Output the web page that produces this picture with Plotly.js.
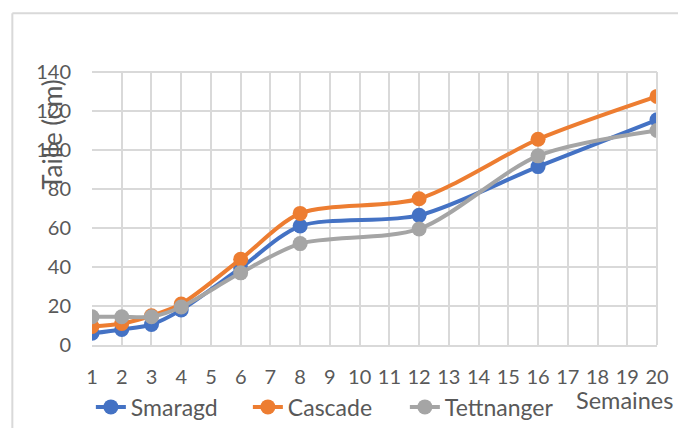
<!DOCTYPE html>
<html>
<head>
<meta charset="utf-8">
<script src="https://cdn.plot.ly/plotly-3.0.1.min.js"></script>
<style>html,body{margin:0;padding:0;background:#fff;}#chart{width:678px;height:428px;}</style>
</head>
<body>
<div id="chart"></div>
<script>
const categories = ['1','2','3','4','5','6','7','8','9','10','11','12','13','14','15','16','17','18','19','20'];
const weeks = ['1','2','3','4','6','8','12','16','20'];
const smaragd = [6, 8, 10.5, 18, 39.5, 61, 66.5, 91.5, 115.5];
const cascade = [9.5, 11, 15, 21, 44, 67.5, 75, 105.5, 127.5];
const tettnanger = [14.5, 14.5, 14.5, 19.5, 37, 52, 59.5, 97, 110];
const yTicks = [0, 20, 40, 60, 80, 100, 120, 140];

const names = ['Smaragd', 'Cascade', 'Tettnanger'];
const colors = ['#4472c4', '#ed7d31', '#a5a5a5'];
const series = [smaragd, cascade, tettnanger];

const traces = series.map((vals, i) => ({
  x: weeks, y: vals, name: names[i], type: 'scatter', mode: 'lines+markers',
  line: {color: colors[i], width: 4, shape: 'spline', smoothing: 0.8},
  marker: {color: colors[i], size: 15}
}));

const FONT = 'Lato, "Open Sans", sans-serif';
const layout = {
  width: 678, height: 428,
  margin: {l: 92, r: 21, t: 72, b: 83, autoexpand: false},
  paper_bgcolor: '#fff', plot_bgcolor: '#fff',
  font: {family: FONT, color: '#595959', size: 20},
  showlegend: true,
  legend: {orientation: 'h', x: -0.002, xref: 'paper', y: -0.227, yanchor: 'middle', xanchor: 'left',
           bgcolor: 'rgba(0,0,0,0)',
           font: {size: 23, color: '#595959', family: FONT}, entrywidth: 112, entrywidthmode: 'pixels', tracegroupgap: 0},
  xaxis: {
    type: 'category', categoryorder: 'array', categoryarray: categories,
    range: [0, 19], showgrid: true, gridcolor: '#d9d9d9', gridwidth: 2,
    showline: true, linecolor: '#d9d9d9', linewidth: 2, ticks: '', zeroline: false,
    ticklabelstandoff: 13,
    tickfont: {size: 20, color: '#595959', family: FONT}, automargin: false
  },
  yaxis: {
    range: [0, 140], tickvals: yTicks, showgrid: true, gridcolor: '#d9d9d9', gridwidth: 2,
    showline: false, zeroline: false, ticks: '', ticklabelstandoff: 20,
    tickfont: {size: 20, color: '#595959', family: FONT}, automargin: false
  },
  shapes: [
    {type: 'line', xref: 'paper', yref: 'paper', x0: 0, x1: 1, y0: 1, y1: 1, line: {color: '#d9d9d9', width: 2}},
    {type: 'line', xref: 'paper', yref: 'paper', x0: 1, x1: 1, y0: 0, y1: 1, line: {color: '#d9d9d9', width: 2}},
    {type: 'line', xref: 'paper', yref: 'paper', x0: -0.141, x1: 1.04, y0: 1.215, y1: 1.215, line: {color: '#d9d9d9', width: 2}, layer: 'below'},
    {type: 'line', xref: 'paper', yref: 'paper', x0: -0.141, x1: -0.141, y0: 1.215, y1: -0.4, line: {color: '#d9d9d9', width: 2}, layer: 'below'}
  ],
  annotations: [
    {text: 'Taille (cm)', textangle: -90, xref: 'paper', yref: 'paper', x: -0.071, y: 0.773,
     showarrow: false, font: {size: 26, color: '#595959', family: FONT}, xanchor: 'center', yanchor: 'middle'},
    {text: 'Semaines', xref: 'paper', yref: 'paper', x: 1.032, y: -0.2015, xanchor: 'right', yanchor: 'middle',
     showarrow: false, font: {size: 23.5, color: '#595959', family: FONT}}
  ]
};

Plotly.newPlot('chart', traces, layout, {displayModeBar: false, staticPlot: true});
</script>
</body>
</html>
